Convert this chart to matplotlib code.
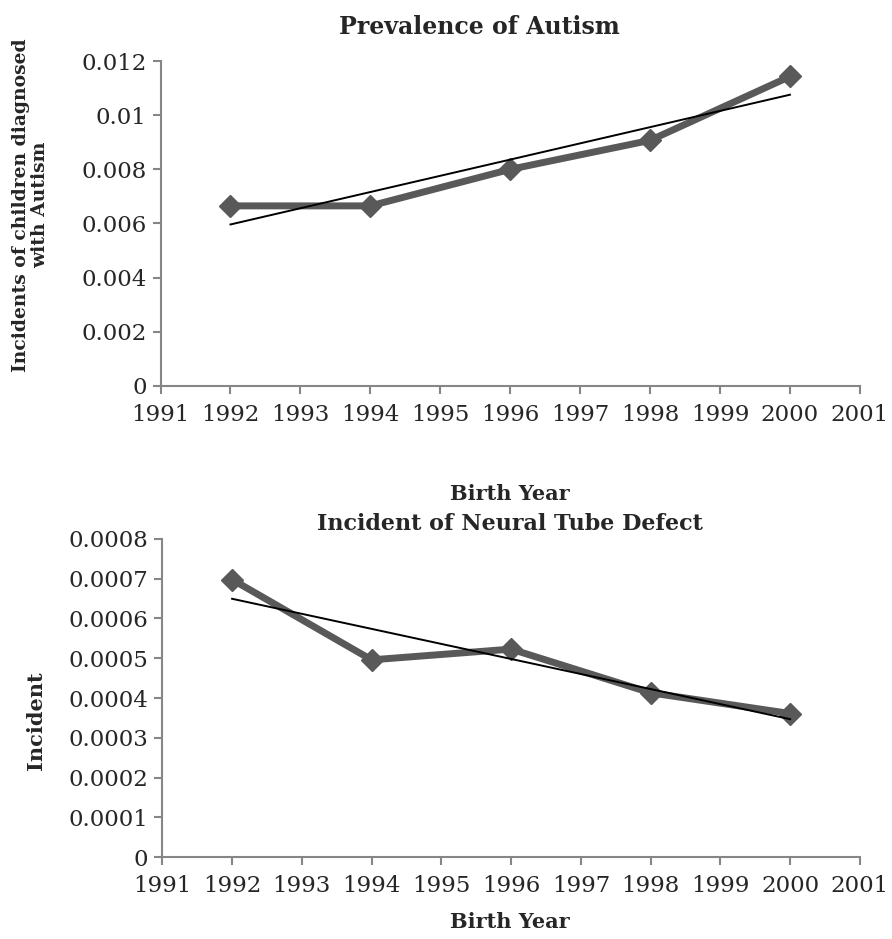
import numpy as np
import matplotlib
matplotlib.use('Agg')
import matplotlib.pyplot as plt

# data
years = [1992, 1994, 1996, 1998, 2000]
autism = [0.00665, 0.00665, 0.0080, 0.00907, 0.01143]
ntd = [0.000698, 0.000496, 0.000523, 0.000413, 0.000361]

autism_ticks = [0, 0.002, 0.004, 0.006, 0.008, 0.01, 0.012]
autism_labels = ['0', '0.002', '0.004', '0.006', '0.008', '0.01', '0.012']
ntd_ticks = [0, 0.0001, 0.0002, 0.0003, 0.0004, 0.0005, 0.0006, 0.0007, 0.0008]
ntd_labels = ['0', '0.0001', '0.0002', '0.0003', '0.0004', '0.0005', '0.0006', '0.0007', '0.0008']
xticks = list(range(1991, 2002))

plt.rcParams['font.family'] = 'DejaVu Serif'
line_col = '#595959'
spine_col = '#868686'
txt_col = '#262626'

fig = plt.figure(figsize=(8.92, 9.39), dpi=100)
ax1 = fig.add_axes([0.180, 0.589, 0.784, 0.346])
ax2 = fig.add_axes([0.182, 0.0873, 0.782, 0.3387])


def style(ax, yt, yl):
    ax.set_xlim(1991, 2001)
    ax.set_xticks(xticks)
    ax.set_xticklabels([str(x) for x in xticks])
    ax.set_ylim(yt[0], yt[-1])
    ax.set_yticks(yt)
    ax.set_yticklabels(yl)
    for s in ['top', 'right']:
        ax.spines[s].set_visible(False)
    for s in ['left', 'bottom']:
        ax.spines[s].set_color(spine_col)
        ax.spines[s].set_linewidth(1.5)
    ax.tick_params(direction='out', length=6, width=1.5, color=spine_col,
                   labelsize=16.5, labelcolor=txt_col, pad=4)
    ax.tick_params(axis='x', pad=7)


def draw(ax, y):
    ax.plot(years, y, color=line_col, lw=5, marker='D', ms=11,
            solid_joinstyle='miter', zorder=2, clip_on=False)
    p = np.polyfit(years, y, 1)
    ax.plot([years[0], years[-1]], np.polyval(p, [years[0], years[-1]]),
            color='black', lw=1.4, zorder=3, clip_on=False)


draw(ax1, autism)
style(ax1, autism_ticks, autism_labels)
draw(ax2, ntd)
style(ax2, ntd_ticks, ntd_labels)

fig.text(0.537, 0.971, 'Prevalence of Autism', ha='center', va='center',
         fontsize=17, fontweight='bold', color=txt_col)
fig.text(0.572, 0.442, 'Incident of Neural Tube Defect', ha='center', va='center',
         fontsize=16, fontweight='bold', color=txt_col)
fig.text(0.572, 0.474, 'Birth Year', ha='center', va='center',
         fontsize=15, fontweight='bold', color=txt_col)
fig.text(0.572, 0.018, 'Birth Year', ha='center', va='center',
         fontsize=15, fontweight='bold', color=txt_col)
fig.text(0.034, 0.782, 'Incidents of children diagnosed\nwith Autism', ha='center',
         va='center', rotation=90, fontsize=13.5, fontweight='bold', color=txt_col,
         linespacing=1.05)
fig.text(0.04, 0.233, 'Incident', ha='center', va='center', rotation=90,
         fontsize=15, fontweight='bold', color=txt_col)

plt.savefig('out.png', dpi=100)
